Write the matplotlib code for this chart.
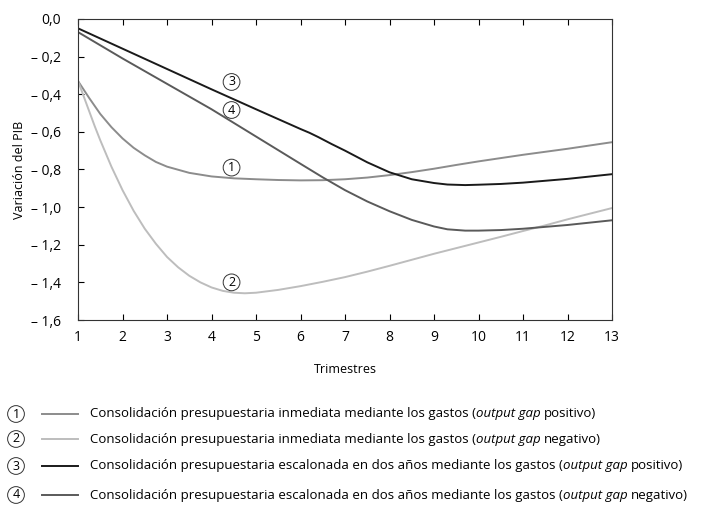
import matplotlib
matplotlib.use("Agg")
from matplotlib import pyplot as plt

plt.rcParams['font.family'] = ['Open Sans', 'DejaVu Sans']

# curve data (x in quarters, y = GDP change)
x1 = [1, 1.25, 1.5, 1.75, 2, 2.25, 2.5, 2.75, 3, 3.5, 4, 4.5, 5, 5.5, 6, 6.5, 7,
      7.5, 8, 8.5, 9, 9.5, 10, 11, 12, 13]
y1 = [-0.33, -0.42, -0.505, -0.575, -0.635, -0.685, -0.725, -0.76, -0.785, -0.818,
      -0.837, -0.847, -0.852, -0.856, -0.858, -0.857, -0.852, -0.843, -0.83, -0.814,
      -0.796, -0.776, -0.757, -0.722, -0.69, -0.655]

x2 = [1, 1.125, 1.25, 1.375, 1.5, 1.75, 2, 2.25, 2.5, 2.75, 3, 3.25, 3.5, 3.75, 4,
      4.25, 4.5, 4.75, 5, 5.5, 6, 6.5, 7, 7.5, 8, 8.5, 9, 9.5, 10, 10.5, 11, 11.5,
      12, 12.5, 13]
y2 = [-0.33, -0.41, -0.49, -0.57, -0.645, -0.785, -0.91, -1.02, -1.115, -1.195,
      -1.265, -1.32, -1.365, -1.40, -1.427, -1.445, -1.455, -1.458, -1.455, -1.44,
      -1.42, -1.397, -1.372, -1.343, -1.312, -1.28, -1.248, -1.218, -1.188, -1.158,
      -1.127, -1.097, -1.065, -1.035, -1.005]

x3 = [1, 2, 3, 4, 5, 6, 6.2, 6.4, 6.7, 7, 7.5, 8, 8.5, 9, 9.3, 9.7, 10, 10.5, 11,
      12, 13]
y3 = [-0.05, -0.158, -0.266, -0.374, -0.48, -0.585, -0.605, -0.628, -0.665, -0.70,
      -0.762, -0.815, -0.852, -0.872, -0.88, -0.883, -0.881, -0.877, -0.87, -0.85,
      -0.825]

x4 = [1, 2, 3, 4, 5, 6, 6.5, 7, 7.5, 8, 8.5, 9, 9.3, 9.7, 10, 10.5, 11, 12, 13]
y4 = [-0.07, -0.21, -0.345, -0.48, -0.625, -0.77, -0.842, -0.91, -0.97, -1.022,
      -1.068, -1.103, -1.118, -1.125, -1.125, -1.122, -1.115, -1.095, -1.07]

colors = ['#8c8c8c', '#bdbdbd', '#1a1a1a', '#5a5a5a']
labels = [
    ("Consolidación presupuestaria inmediata mediante los gastos (", "positivo)"),
    ("Consolidación presupuestaria inmediata mediante los gastos (", "negativo)"),
    ("Consolidación presupuestaria escalonada en dos años mediante los gastos (", "positivo)"),
    ("Consolidación presupuestaria escalonada en dos años mediante los gastos (", "negativo)"),
]
marks = [(4.45, -0.79), (4.45, -1.40), (4.45, -0.335), (4.45, -0.484)]

yticks = [0.0, -0.2, -0.4, -0.6, -0.8, -1.0, -1.2, -1.4, -1.6]
ytick_labels = ['0,0', '– 0,2', '– 0,4', '– 0,6', '– 0,8', '– 1,0', '– 1,2', '– 1,4', '– 1,6']
xticks = list(range(1, 14))

fig = plt.figure(figsize=(7.12, 5.12), dpi=100)
ax = fig.add_axes([0.1096, 0.375, 0.75, 0.588])

for xs, ys, c in zip([x1, x2, x3, x4], [y1, y2, y3, y4], colors):
    ax.plot(xs, ys, color=c, lw=1.4, solid_capstyle='round', solid_joinstyle='round')


def circ(axis, x, y, n, transform, size=9):
    axis.text(x, y, str(n), transform=transform, ha='center', va='center', fontsize=size,
              bbox=dict(boxstyle='circle,pad=0.15', fc='white', ec='#333333', lw=0.7))


for i, (mx, my) in enumerate(marks):
    circ(ax, mx, my, i + 1, ax.transData)

ax.set_xlim(1, 13)
ax.set_ylim(-1.6, 0.0)
ax.set_xticks(xticks)
ax.set_yticks(yticks)
ax.set_yticklabels(ytick_labels)
ax.tick_params(axis='x', direction='in', top=True, length=4, width=0.8, labelsize=10, pad=7)
ax.tick_params(axis='y', direction='in', length=4, width=0.8, labelsize=10, pad=12)
for s in ax.spines.values():
    s.set_linewidth(0.8)
    s.set_color('#333333')
ax.set_xlabel('Trimestres', fontsize=9, labelpad=13)
ax.set_ylabel('Variación del PIB', fontsize=9, labelpad=4)

# legend below the chart
ly = [414, 439, 466, 495]
for i, y in enumerate(ly):
    fy = 1 - y / 512
    circ(fig, 16 / 712, fy, i + 1, fig.transFigure)
    fig.add_artist(plt.Line2D([42 / 712, 78 / 712], [fy, fy], color=colors[i], lw=1.4))
    t = fig.text(90 / 712, fy, labels[i][0], fontsize=9.5, va='center', ha='left')
    fig.canvas.draw()
    bb = t.get_window_extent()
    x0 = bb.x1 / fig.bbox.width
    t2 = fig.text(x0, fy, 'output gap', fontsize=9.5, va='center', ha='left', style='italic')
    fig.canvas.draw()
    bb2 = t2.get_window_extent()
    fig.text(bb2.x1 / fig.bbox.width + 3 / 712, fy, labels[i][1], fontsize=9.5, va='center', ha='left')

fig.savefig('out.png', dpi=100)
